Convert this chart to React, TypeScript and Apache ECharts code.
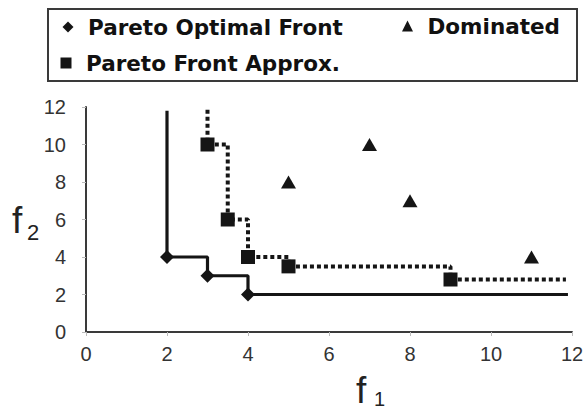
import { useEffect, useRef } from "react";
import * as echarts from "echarts";

// Objective-space points (f1, f2)
const optimalFront: [number, number][] = [
  [2, 4],
  [3, 3],
  [4, 2],
];
const approxFront: [number, number][] = [
  [3, 10],
  [3.5, 6],
  [4, 4],
  [5, 3.5],
  [9, 2.8],
];
const dominated: [number, number][] = [
  [5, 8],
  [7, 10],
  [8, 7],
  [11, 4],
];

// Where each attainment staircase enters from the top and leaves to the right
const optimalTop = 11.8;
const optimalRight = 11.9;
const approxTop = 11.85;
const approxRight = 11.85;

// Axis range and tick step (both axes)
const axisMin = 0;
const axisMax = 12;
const tickStep = 2;

const seriesNames = ["Pareto Optimal Front", "Pareto Front Approx.", "Dominated"];

const INK = "#151515";
const AXIS = "#3a3a3a";

function staircase(points: [number, number][], top: number, right: number) {
  const first = points[0];
  const last = points[points.length - 1];
  return [
    { value: [first[0], top], symbol: "none" },
    ...points.map((p) => ({ value: p })),
    { value: [right, last[1]], symbol: "none" },
  ];
}

const legendText = {
  fontFamily: "DejaVu Sans",
  fontWeight: "bold" as const,
  fontSize: 21.5,
  lineHeight: 22,
  color: "#111",
  padding: [0, 0, 6, 9.5],
};

function legendAt(name: string, icon: string, left: number, top: number) {
  return {
    data: [{ name, icon }],
    left,
    top,
    orient: "horizontal",
    padding: 0,
    itemWidth: 11,
    itemHeight: 11,
    selectedMode: false,
    textStyle: legendText,
  };
}

export default function App() {
  const ref = useRef<HTMLDivElement>(null);

  useEffect(() => {
    if (!ref.current) return;
    const chart = echarts.init(ref.current, undefined, { renderer: "svg" });

    const axisCommon = {
      type: "value" as const,
      min: axisMin,
      max: axisMax,
      interval: tickStep,
      splitLine: { show: false },
      axisLine: { show: true, lineStyle: { color: AXIS, width: 2 } },
      axisTick: { show: true, length: 4, lineStyle: { color: "#bbbbbb", width: 1 } },
    };

    chart.setOption({
      animation: false,
      backgroundColor: "#ffffff",
      grid: { left: 86, right: 16, top: 107, bottom: 79 },
      xAxis: {
        ...axisCommon,
        axisLabel: {
          margin: 12,
          fontFamily: "Liberation Sans",
          fontSize: 20,
          color: "#333",
        },
      },
      yAxis: {
        ...axisCommon,
        axisLabel: {
          margin: 20,
          fontFamily: "Liberation Sans",
          fontSize: 20,
          color: "#333",
        },
      },
      legend: [
        legendAt(seriesNames[0], "diamond", 62.5, 13),
        legendAt(seriesNames[2], "triangle", 402, 12),
        legendAt(seriesNames[1], "rect", 60.5, 49),
      ],
      graphic: [
        {
          type: "rect",
          shape: { x: 48, y: 9, width: 529, height: 72 },
          style: { fill: "transparent", stroke: AXIS, lineWidth: 2 },
          silent: true,
        },
        // f2 (vertical axis name)
        {
          type: "text",
          x: 12,
          y: 220,
          style: {
            text: "f",
            font: "37px 'Liberation Sans'",
            fill: "#222",
            verticalAlign: "middle",
          },
        },
        {
          type: "text",
          x: 27,
          y: 232,
          style: {
            text: "2",
            font: "22px 'Liberation Sans'",
            fill: "#222",
            verticalAlign: "middle",
          },
        },
        // f1 (horizontal axis name)
        {
          type: "text",
          x: 356,
          y: 390,
          style: {
            text: "f",
            font: "37px 'Liberation Sans'",
            fill: "#222",
            verticalAlign: "middle",
          },
        },
        {
          type: "text",
          x: 374,
          y: 399,
          style: {
            text: "1",
            font: "20px 'Liberation Sans'",
            fill: "#222",
            verticalAlign: "middle",
          },
        },
      ],
      series: [
        {
          name: seriesNames[0],
          type: "line",
          step: "end",
          data: staircase(optimalFront, optimalTop, optimalRight),
          symbol: "diamond",
          symbolSize: 14,
          itemStyle: { color: INK },
          lineStyle: { color: INK, width: 3.2 },
          z: 3,
        },
        {
          name: seriesNames[1],
          type: "line",
          step: "end",
          data: staircase(approxFront, approxTop, approxRight),
          symbol: "rect",
          symbolSize: 14,
          itemStyle: { color: INK },
          lineStyle: { color: INK, width: 4, type: [4, 3] },
          z: 4,
        },
        {
          name: seriesNames[2],
          type: "scatter",
          data: dominated,
          symbol: "triangle",
          symbolSize: [15, 13],
          itemStyle: { color: INK, opacity: 1 },
          z: 5,
        },
      ],
    });

    return () => chart.dispose();
  }, []);

  return (
    <div
      ref={ref}
      style={{ position: "absolute", left: 0, top: 0, width: 588, height: 411 }}
    />
  );
}
